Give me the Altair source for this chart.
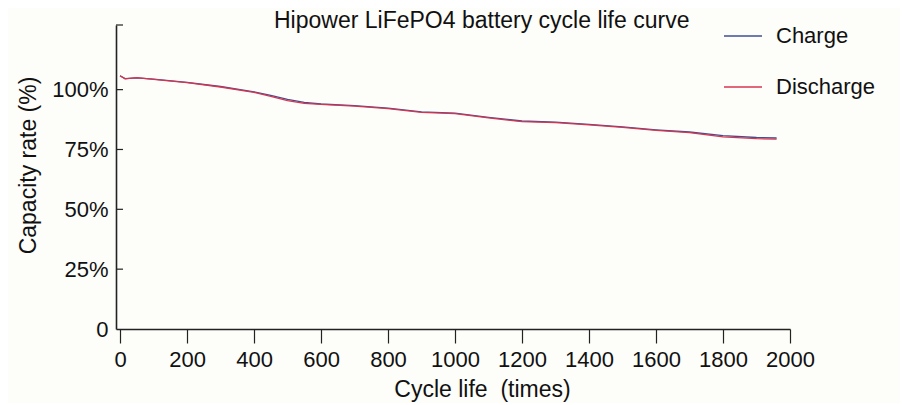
import altair as alt
import pandas as pd

# ---- data ----
cycles = [0, 15, 50, 100, 200, 300, 400, 450, 500, 550, 600, 700, 800, 900,
          1000, 1100, 1200, 1300, 1400, 1500, 1600, 1700, 1800, 1900, 1960]
charge = [105.8, 104.6, 104.9, 104.4, 103.0, 101.3, 99.1, 97.6, 95.9, 94.7, 94.0,
          93.3, 92.3, 90.7, 90.2, 88.4, 86.9, 86.4, 85.5, 84.4, 83.2, 82.3, 80.8,
          80.0, 79.8]
discharge = [105.8, 104.5, 105.0, 104.3, 102.9, 101.1, 98.9, 97.2, 95.4, 94.3, 93.8,
             93.1, 92.1, 90.5, 90.0, 88.2, 86.6, 86.2, 85.3, 84.2, 83.0, 82.0, 80.3,
             79.5, 79.3]
series = ["Charge", "Discharge"]
colors = ["#3f4f92", "#d8344f"]
y_tick_values = [0, 25, 50, 75, 100]
y_inner_ticks = [25, 50, 75, 100, 127]
x_tick_values = [0, 200, 400, 600, 800, 1000, 1200, 1400, 1600, 1800, 2000]

df = pd.DataFrame({"cycle": cycles, "Charge": charge, "Discharge": discharge})
long = df.melt("cycle", var_name="series", value_name="capacity")
ticks_df = pd.DataFrame({"v": y_inner_ticks})

FONT = "Liberation Sans"

x_scale = alt.Scale(domain=[-12, 2000], nice=False, zero=False)
y_scale = alt.Scale(domain=[0, 127], nice=False)

lines = alt.Chart(long).mark_line(strokeWidth=1.3).encode(
    x=alt.X("cycle:Q", scale=x_scale,
            axis=alt.Axis(values=x_tick_values, format="d", labelOverlap=False,
                          labelFlush=False,
                          title="Cycle life\u00a0 (times)",
                          grid=False, tickSize=14, labelPadding=6,
                          labelFontSize=22, titleFontSize=23,
                          titleFontWeight="normal", titleX=366, titleY=67,
                          titleBaseline="alphabetic", titleAnchor="middle")),
    y=alt.Y("capacity:Q", scale=y_scale,
            axis=alt.Axis(values=y_tick_values, title="Capacity rate (%)",
                          grid=False, ticks=False, labelPadding=8,
                          labelFontSize=22, titleFontSize=23,
                          titleFontWeight="normal", labelOverlap=False,
                          labelFlush=False,
                          labelExpr="datum.value == 0 ? '0' : datum.value + '%'",
                          titleX=-81, titleY=140, titleBaseline="alphabetic",
                          titleAngle=270)),
    color=alt.Color("series:N", scale=alt.Scale(domain=series, range=colors),
                    legend=alt.Legend(title=None, orient="none", legendX=607,
                                      legendY=-9, symbolType="stroke",
                                      symbolSize=1444, symbolStrokeWidth=1.6,
                                      labelFontSize=22, labelOffset=13,
                                      rowPadding=20)),
)

inner_ticks = alt.Chart(ticks_df).mark_rule(color="#222222", strokeWidth=1.2).encode(
    y=alt.Y("v:Q", scale=y_scale),
    x=alt.value(0),
    x2=alt.value(7),
)

chart = alt.layer(lines, inner_ticks).properties(
    width=674,
    height=304,
    autosize=alt.AutoSizeParams(type="none"),
    padding={"left": 108, "top": 17, "right": 110, "bottom": 74},
    background="#fdfdfa",
    title=alt.TitleParams("Hipower LiFePO4 battery cycle life curve",
                          anchor="start", dx=257, dy=35, offset=0,
                          fontSize=23, fontWeight="normal",
                          baseline="alphabetic", font=FONT, color="#111111"),
).configure_view(stroke=None).configure_axis(
    domainColor="#222222", domainWidth=1.6, tickColor="#222222", tickWidth=1.2,
    labelColor="#111111", titleColor="#111111", labelFont=FONT, titleFont=FONT,
).configure_legend(labelFont=FONT, labelColor="#111111")

chart.save("out.html", embed_options={"renderer": "svg", "actions": False})
